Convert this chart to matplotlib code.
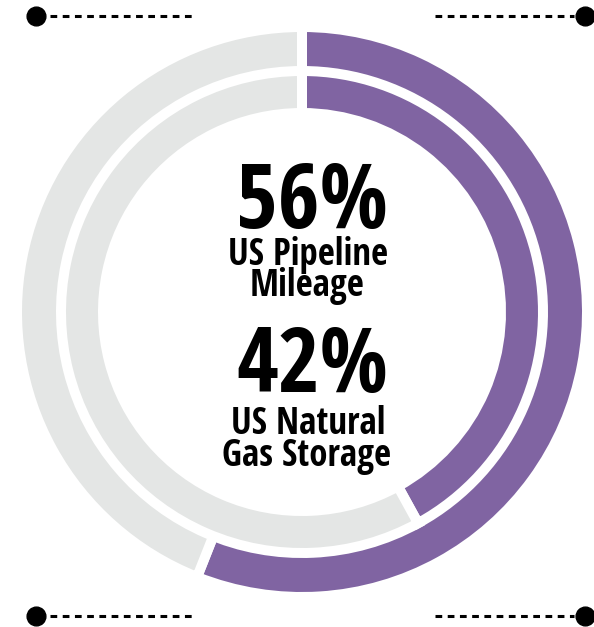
"""Anillos concentricos: participacion en ductos y almacenamiento."""

import matplotlib

matplotlib.use("Agg")
import matplotlib.pyplot as plt
from matplotlib import font_manager


ANCHO, ALTO = 594, 627

# datos del grafico
anillos = ["US Pipeline Mileage", "US Natural Gas Storage"]
porcentajes = [56, 42]
etiquetas_valor = ["56%", "42%"]
etiquetas_linea1 = ["US Pipeline", "US Natural"]
etiquetas_linea2 = ["Mileage", "Gas Storage"]

MORADO = "#8064a2"
GRIS = "#e4e6e5"


def peso(f):
    try:
        return int(f.weight)
    except (TypeError, ValueError):
        return {"bold": 700, "normal": 400}.get(f.weight, 400)


def fuente_condensada():
    """Busca un archivo Open Sans Condensed Bold; si no hay, Barlow Condensed."""
    for familia in ("Open Sans", "Barlow Condensed", "Asap Condensed"):
        candidatos = [
            f for f in font_manager.fontManager.ttflist
            if familia in f.name and f.style == "normal"
            and (str(f.stretch) != "normal" or "ondensed" in f.fname)
        ]
        if candidatos:
            candidatos.sort(key=lambda f: abs(peso(f) - 700))
            return candidatos[0].fname
    return None


def y(px):
    # convierte coordenada de pixel (desde arriba) a coordenada del eje
    return ALTO - px


def main():
    fig = plt.figure(figsize=(ANCHO / 100, ALTO / 100), dpi=100)
    ax = fig.add_axes([0, 0, 1, 1])

    centro = (302, y(312))
    radios = [285, 241]
    grosores = [46, 42]
    for valor, radio, grosor in zip(porcentajes, radios, grosores):
        ax.pie(
            [valor, 100 - valor],
            colors=[MORADO, GRIS],
            startangle=90,
            counterclock=False,
            radius=radio,
            center=centro,
            wedgeprops=dict(width=grosor, edgecolor="white", linewidth=7.2),
        )

    # decoracion de esquinas: punto + linea punteada
    for py in (16, 616):
        ax.plot([50, 193], [y(py), y(py)], color="black", lw=2.2, ls=(0, (2.2, 1.8)),
                solid_capstyle="butt")
        ax.plot([435, 574], [y(py), y(py)], color="black", lw=2.2, ls=(0, (2.2, 1.8)),
                solid_capstyle="butt")
        ax.plot([36, 585], [y(py), y(py)], ls="none", marker="o", ms=13.5, color="black")

    archivo = fuente_condensada()
    if archivo:
        grande = font_manager.FontProperties(fname=archivo, size=65)
        chica = font_manager.FontProperties(fname=archivo, size=26.5)
    else:
        grande = font_manager.FontProperties(weight="bold", size=60, stretch="condensed")
        chica = font_manager.FontProperties(weight="bold", size=24, stretch="condensed")

    bases = [(228, 265, 296), (392, 434, 466)]
    for i, (b_valor, b1, b2) in enumerate(bases):
        ax.text(312, y(b_valor), etiquetas_valor[i], ha="center", va="baseline",
                fontproperties=grande)
        ax.text(308, y(b1), etiquetas_linea1[i], ha="center", va="baseline",
                fontproperties=chica)
        ax.text(307, y(b2), etiquetas_linea2[i], ha="center", va="baseline",
                fontproperties=chica)

    ax.set_xlim(0, ANCHO)
    ax.set_ylim(0, ALTO)
    ax.set_aspect("auto")
    ax.axis("off")
    fig.savefig("out.png", dpi=100, facecolor="white")
    plt.close(fig)


if __name__ == "__main__":
    main()
